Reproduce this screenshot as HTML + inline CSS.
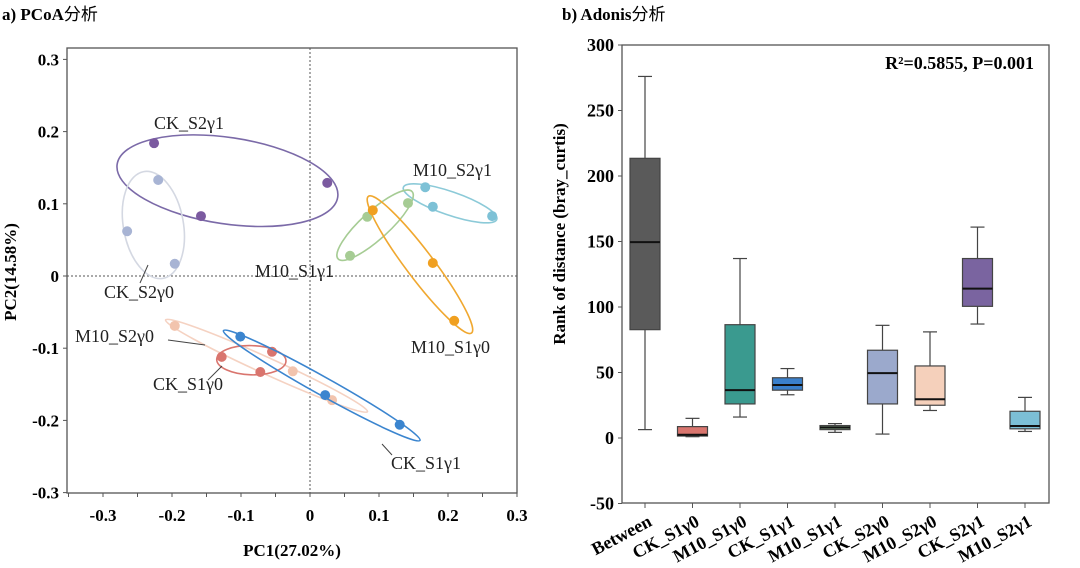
<!DOCTYPE html>
<html><head><meta charset="utf-8">
<style>
html,body{margin:0;padding:0;background:#fff;}
svg{display:block;font-family:"Liberation Serif","Noto Serif CJK SC",serif;}
</style></head>
<body>
<svg id="s" width="1080" height="568" viewBox="0 0 1080 568">
<text x="2" y="20" font-size="17" font-weight="bold">a) PCoA<tspan font-family="Noto Sans CJK SC, sans-serif" font-weight="normal">分析</tspan></text>
<text x="562" y="20" font-size="17" font-weight="bold">b) Adonis<tspan font-family="Noto Sans CJK SC, sans-serif" font-weight="normal">分析</tspan></text>
<g id="pa"></g>
<g id="pb"></g>
</svg>
<script>
// ---- PCoA data ----
const groups = ["CK_S2γ1","CK_S2γ0","M10_S2γ1","M10_S1γ1","M10_S1γ0","M10_S2γ0","CK_S1γ0","CK_S1γ1"];
const groupColors = ["#7b5aa0","#a8b4d4","#7dc1d6","#a6cc94","#f0a020","#f2c4ae","#d9756e","#3b85cf"];
const ellipseColors = ["#7b6aa8","#d4d8e2","#8ccad8","#a6cc94","#f0a830","#f5d2c2","#d9756e","#3b85cf"];
const pc1 = [[-0.226,0.025,-0.158],[-0.22,-0.265,-0.196],[0.167,0.178,0.264],[0.058,0.083,0.142],[0.091,0.178,0.209],[-0.196,-0.025,0.032],[-0.128,-0.055,-0.072],[-0.101,0.022,0.13]];
const pc2 = [[0.184,0.129,0.083],[0.133,0.062,0.017],[0.123,0.096,0.083],[0.028,0.082,0.101],[0.091,0.018,-0.062],[-0.069,-0.132,-0.172],[-0.112,-0.105,-0.133],[-0.084,-0.165,-0.206]];
const pcTicks = [-0.3,-0.2,-0.1,0,0.1,0.2,0.3];
// ---- Adonis data ----
const boxCats = ["Between","CK_S1γ0","M10_S1γ0","CK_S1γ1","M10_S1γ1","CK_S2γ0","M10_S2γ0","CK_S2γ1","M10_S2γ1"];
const boxMin = [6.4,1,16,33,4.3,3,21,87,5];
const boxQ1 = [82.7,1.5,26,36.5,6.4,26,25,100.5,7];
const boxMed = [149.5,2.5,36.5,40.5,8,49.5,29.6,114,9.2];
const boxQ3 = [213.5,8.7,86.5,46,9.5,67,55,137,20.4];
const boxMax = [276,15,137,53,11,86,81,161,31];
const boxColors = ["#5a5a5a","#d9756e","#3a9a8f","#3a80cc","#7f9e7c","#9ba9cc","#f5d0bb","#7a64a0","#7cbfd6"];
const rankTicks = [-50,0,50,100,150,200,250,300];

const NS="http://www.w3.org/2000/svg";
function mk(parent,tag,attrs,txt){const e=document.createElementNS(NS,tag);for(const k in attrs)e.setAttribute(k,attrs[k]);if(txt!==undefined)e.textContent=txt;parent.appendChild(e);return e;}

// ---------- Panel A ----------
const A=document.getElementById('pa');
const ax0=67,ax1=517,ay0=48,ay1=493;
const xA=v=>310+v*690, yA=v=>276-v*722;
let f=mk(A,'rect',{x:ax0,y:ay0,width:ax1-ax0,height:ay1-ay0,fill:'none',stroke:'#555','stroke-width':1.3});

let l=mk(A,'line',{x1:xA(0),x2:xA(0),y1:ay0,y2:ay1,stroke:'#555','stroke-dasharray':'2,2'});

l=mk(A,'line',{x1:ax0,x2:ax1,y1:yA(0),y2:yA(0),stroke:'#555','stroke-dasharray':'2,2'});

for(let v=-0.35;v<=0.301;v+=0.05){mk(A,'line',{x1:xA(v),x2:xA(v),y1:ay1,y2:ay1+4,stroke:'#555'});}
pcTicks.forEach(v=>{
  let t=mk(A,'text',{x:xA(v),y:ay1+28,'font-size':17,'font-weight':'bold','text-anchor':'middle'},v===0?'0':v.toFixed(1));
  
  mk(A,'line',{x1:ax0-4,x2:ax0,y1:yA(v),y2:yA(v),stroke:'#555'});
  t=mk(A,'text',{x:ax0-8,y:yA(v)+6,'font-size':17,'font-weight':'bold','text-anchor':'end'},v===0?'0':v.toFixed(1));
  
});
let t=mk(A,'text',{x:292,y:556,'font-size':17,'font-weight':'bold','text-anchor':'middle'},'PC1(27.02%)');

t=mk(A,'text',{x:0,y:0,'font-size':17,'font-weight':'bold','text-anchor':'middle',transform:'translate(16,272) rotate(-90)'},'PC2(14.58%)');


groups.forEach((g,i)=>{
  const px=pc1[i].map(xA), py=pc2[i].map(yA), n=px.length;
  const mx=px.reduce((a,b)=>a+b)/n, my=py.reduce((a,b)=>a+b)/n;
  let sxx=0,syy=0,sxy=0;
  for(let j=0;j<n;j++){sxx+=(px[j]-mx)**2;syy+=(py[j]-my)**2;sxy+=(px[j]-mx)*(py[j]-my);}
  sxx/=n-1;syy/=n-1;sxy/=n-1;
  const tr=(sxx+syy)/2, d=Math.sqrt(((sxx-syy)/2)**2+sxy*sxy);
  const l1=tr+d,l2=Math.max(tr-d,4);
  const ang=Math.atan2(l1-sxx,sxy||1e-9)*180/Math.PI;
  const k=1.2;
  const e=mk(A,'ellipse',{cx:mx,cy:my,rx:k*Math.sqrt(l1)+3,ry:k*Math.sqrt(l2)+2,fill:'none',stroke:ellipseColors[i],'stroke-width':1.6,transform:`rotate(${ang} ${mx} ${my})`});
  
  
  for(let j=0;j<n;j++){
    const c=mk(A,'circle',{cx:px[j],cy:py[j],r:5,fill:groupColors[i]});
    
    
  }
});
const labs=[["CK_S2γ1",154,129],["M10_S2γ1",413,176],["M10_S1γ1",255,277],["CK_S2γ0",104,298],["M10_S2γ0",75,342],["M10_S1γ0",411,353],["CK_S1γ0",153,390],["CK_S1γ1",391,469]];
labs.forEach(a=>{t=mk(A,'text',{x:a[1],y:a[2],'font-size':18,fill:'#222'},a[0]);});
[[140,283,148,265],[168,340,205,345],[208,380,222,366],[392,455,382,444]].forEach(s=>{mk(A,'line',{x1:s[0],y1:s[1],x2:s[2],y2:s[3],stroke:'#444','stroke-width':1});});

// ---------- Panel B ----------
const B=document.getElementById('pb');
const bx0=622,bx1=1049,by0=45,by1=503;
const yB=v=>438-v*(438-45)/300;
const xB=i=>645+i*47.5;
f=mk(B,'rect',{x:bx0,y:by0,width:bx1-bx0,height:by1-by0,fill:'none',stroke:'#555','stroke-width':1.3});

rankTicks.forEach(v=>{
  mk(B,'line',{x1:bx0-4,x2:bx0,y1:yB(v),y2:yB(v),stroke:'#555'});
  t=mk(B,'text',{x:bx0-8,y:yB(v)+6,'font-size':18,'font-weight':'bold','text-anchor':'end'},String(v));
  
});
t=mk(B,'text',{x:0,y:0,'font-size':17,'font-weight':'bold','text-anchor':'middle',transform:'translate(565,234) rotate(-90)'},'Rank of distance (bray_curtis)');

t=mk(B,'text',{x:1034,y:69,'font-size':18,'font-weight':'bold','text-anchor':'end'},'R²=0.5855, P=0.001');

boxCats.forEach((c,i)=>{
  const x=xB(i),w=15;
  mk(B,'line',{x1:x,x2:x,y1:by1,y2:by1+5,stroke:'#555'});
  const g=mk(B,'g',{});
  
  
  mk(g,'line',{x1:x,x2:x,y1:yB(boxMax[i]),y2:yB(boxQ3[i]),stroke:'#444','stroke-width':1.2});
  mk(g,'line',{x1:x,x2:x,y1:yB(boxQ1[i]),y2:yB(boxMin[i]),stroke:'#444','stroke-width':1.2});
  mk(g,'line',{x1:x-7,x2:x+7,y1:yB(boxMax[i]),y2:yB(boxMax[i]),stroke:'#444','stroke-width':1.2});
  mk(g,'line',{x1:x-7,x2:x+7,y1:yB(boxMin[i]),y2:yB(boxMin[i]),stroke:'#444','stroke-width':1.2});
  mk(g,'rect',{x:x-w,y:yB(boxQ3[i]),width:2*w,height:Math.max(yB(boxQ1[i])-yB(boxQ3[i]),1),fill:boxColors[i],stroke:'#444','stroke-width':1.2});
  mk(g,'line',{x1:x-w,x2:x+w,y1:yB(boxMed[i]),y2:yB(boxMed[i]),stroke:'#111','stroke-width':2});
  t=mk(B,'text',{x:0,y:0,'font-size':18,'font-weight':'bold','text-anchor':'end',transform:`translate(${x+8},${by1+22}) rotate(-28)`},c);
  
});
</script>
</body></html>
